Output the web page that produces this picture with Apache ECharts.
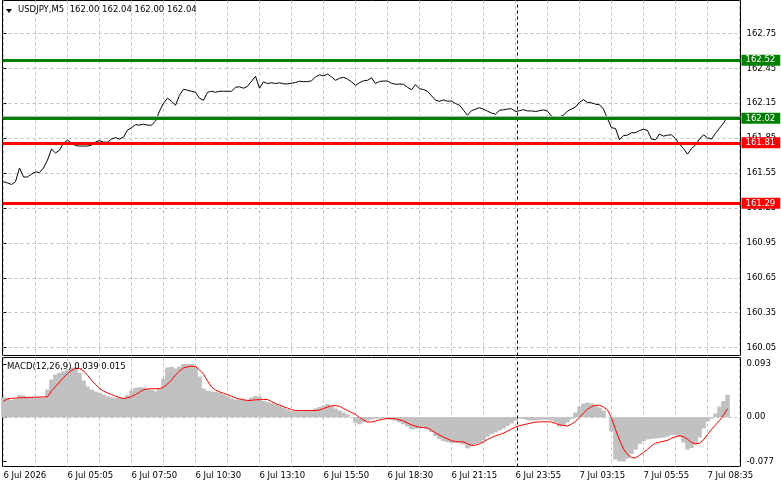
<!DOCTYPE html>
<html><head><meta charset="utf-8">
<script src="https://cdn.jsdelivr.net/npm/echarts@6/dist/echarts.min.js"></script>
<style>html,body{margin:0;padding:0;background:#fff}#c{width:781px;height:489px}</style>
</head><body><div id="c"></div>
<script>
const symbolTitle = 'USDJPY,M5  162.00 162.04 162.00 162.04';
const macdTitle = 'MACD(12,26,9) 0.039 0.015';

// close price, one reading every 2 bars (M5)
const price = [
161.476,161.465,161.452,161.476,161.593,161.516,161.516,161.542,161.559,161.555,
161.593,161.662,161.756,161.722,161.747,161.807,161.833,161.807,161.786,161.782,
161.782,161.782,161.790,161.816,161.829,161.816,161.816,161.842,161.855,161.842,
161.859,161.919,161.940,161.966,161.962,161.970,161.962,161.962,161.996,162.082,
162.150,162.193,162.167,162.133,162.219,162.270,162.262,162.253,162.244,162.193,
162.176,162.244,162.253,162.244,162.253,162.253,162.253,162.253,162.287,162.292,
162.279,162.296,162.339,162.382,162.279,162.333,162.319,162.326,162.319,162.326,
162.317,162.316,162.322,162.328,162.339,162.336,162.336,162.343,162.376,162.394,
162.386,162.401,162.377,162.347,162.364,162.373,162.358,162.334,162.304,162.326,
162.343,162.347,162.369,162.319,162.337,162.341,162.340,162.322,162.313,162.315,
162.313,162.287,162.266,162.310,162.274,162.268,162.253,162.214,162.176,162.167,
162.178,162.167,162.169,162.148,162.133,162.090,162.047,162.086,162.099,162.112,
162.099,162.082,162.066,162.056,162.090,162.094,162.100,162.103,162.079,162.086,
162.095,162.084,162.084,162.079,162.086,162.093,162.082,162.039,162.033,162.033,
162.047,162.083,162.100,162.118,162.159,162.181,162.156,162.154,162.142,162.137,
162.099,162.017,161.940,161.933,161.837,161.872,161.876,161.897,161.896,161.915,
161.927,161.915,161.842,161.836,161.885,161.867,161.876,161.878,161.846,161.799,
161.760,161.713,161.760,161.790,161.842,161.879,161.853,161.842,161.891,161.936,
161.979,162.040];

const macdHist = [
0.0349,0.0339,0.0300,0.0326,0.0387,0.0379,0.0361,0.0353,0.0349,0.0349,
0.0349,0.0483,0.0658,0.0745,0.0775,0.0803,0.0832,0.0867,0.0867,0.0771,
0.0640,0.0536,0.0483,0.0449,0.0428,0.0396,0.0366,0.0347,0.0339,0.0339,
0.0339,0.0387,0.0466,0.0513,0.0522,0.0518,0.0501,0.0478,0.0454,0.0501,
0.0675,0.0867,0.0876,0.0850,0.0885,0.0928,0.0930,0.0930,0.0894,0.0710,
0.0501,0.0461,0.0449,0.0440,0.0428,0.0396,0.0365,0.0326,0.0309,0.0309,
0.0309,0.0309,0.0344,0.0370,0.0361,0.0283,0.0265,0.0248,0.0230,0.0204,
0.0169,0.0134,0.0105,0.0105,0.0105,0.0105,0.0105,0.0113,0.0152,0.0178,
0.0204,0.0234,0.0199,0.0152,0.0117,0.0082,0.0047,0.0003,-0.0098,-0.0124,
-0.0089,-0.0058,-0.0040,-0.0028,-0.0023,-0.0023,-0.0031,-0.0045,-0.0063,-0.0092,
-0.0124,-0.0162,-0.0211,-0.0202,-0.0194,-0.0187,-0.0215,-0.0258,-0.0328,-0.0380,
-0.0415,-0.0433,-0.0447,-0.0447,-0.0455,-0.0476,-0.0543,-0.0511,-0.0468,-0.0450,
-0.0407,-0.0337,-0.0293,-0.0267,-0.0232,-0.0197,-0.0154,-0.0110,-0.0058,-0.0023,
-0.0031,-0.0049,-0.0058,-0.0054,-0.0049,-0.0045,-0.0040,-0.0058,-0.0092,-0.0162,
-0.0154,-0.0092,-0.0031,0.0082,0.0187,0.0239,0.0257,0.0243,0.0213,0.0169,
0.0117,-0.0005,-0.0250,-0.0738,-0.0770,-0.0770,-0.0721,-0.0642,-0.0564,-0.0468,
-0.0415,-0.0389,-0.0377,-0.0372,-0.0363,-0.0354,-0.0337,-0.0311,-0.0311,-0.0346,
-0.0442,-0.0564,-0.0538,-0.0476,-0.0354,-0.0197,-0.0075,-0.0023,0.0065,0.0187,
0.0283,0.0390];

const macdSignal = [
0.0279,0.0318,0.0330,0.0335,0.0339,0.0340,0.0344,0.0347,0.0349,0.0353,
0.0354,0.0358,0.0457,0.0536,0.0614,0.0693,0.0763,0.0818,0.0850,0.0850,
0.0806,0.0733,0.0644,0.0571,0.0504,0.0457,0.0422,0.0396,0.0366,0.0344,
0.0326,0.0339,0.0358,0.0396,0.0435,0.0480,0.0494,0.0496,0.0496,0.0501,
0.0522,0.0579,0.0649,0.0736,0.0806,0.0859,0.0880,0.0890,0.0885,0.0824,
0.0754,0.0632,0.0527,0.0475,0.0442,0.0417,0.0396,0.0366,0.0337,0.0318,
0.0304,0.0291,0.0295,0.0304,0.0305,0.0309,0.0309,0.0274,0.0239,0.0213,
0.0183,0.0159,0.0131,0.0117,0.0117,0.0117,0.0117,0.0117,0.0117,0.0127,
0.0152,0.0176,0.0201,0.0201,0.0190,0.0152,0.0117,0.0082,0.0047,-0.0005,
-0.0049,-0.0084,-0.0084,-0.0066,-0.0047,-0.0035,-0.0023,-0.0023,-0.0028,-0.0045,
-0.0066,-0.0101,-0.0134,-0.0157,-0.0176,-0.0182,-0.0187,-0.0229,-0.0272,-0.0311,
-0.0347,-0.0380,-0.0410,-0.0424,-0.0429,-0.0429,-0.0462,-0.0489,-0.0489,-0.0462,
-0.0429,-0.0389,-0.0354,-0.0325,-0.0302,-0.0276,-0.0243,-0.0206,-0.0171,-0.0148,
-0.0131,-0.0115,-0.0099,-0.0086,-0.0080,-0.0080,-0.0080,-0.0084,-0.0110,-0.0131,
-0.0145,-0.0154,-0.0119,-0.0075,0.0003,0.0073,0.0140,0.0187,0.0209,0.0209,
0.0178,0.0126,-0.0014,-0.0215,-0.0398,-0.0555,-0.0651,-0.0703,-0.0712,-0.0663,
-0.0613,-0.0560,-0.0497,-0.0455,-0.0435,-0.0419,-0.0403,-0.0366,-0.0342,-0.0323,
-0.0340,-0.0384,-0.0442,-0.0462,-0.0455,-0.0394,-0.0302,-0.0211,-0.0136,-0.0058,
0.0038,0.0150];

const resistanceLevels = [162.52, 162.02];
const supportLevels = [161.81, 161.29];
const bidPrice = 162.04;
const priceTicks = [160.05,160.35,160.65,160.95,161.25,161.55,161.85,162.15,162.45,162.75];
const macdTicks = [0.093, 0.00, -0.077];
const macdTickLabels = ['0.093', '0.00', '-0.077'];
const timeLabels = ['6 Jul 2026','6 Jul 05:05','6 Jul 07:50','6 Jul 10:30','6 Jul 13:10','6 Jul 15:50',
  '6 Jul 18:30','6 Jul 21:15','6 Jul 23:55','7 Jul 03:15','7 Jul 05:55','7 Jul 08:35'];
const barsPerSample = 2;
const barsPerLabel = 32;
const barsPerGrid = 16;
const totalBars = 369;
const daySeparatorBar = 257;

const FONT = 'DejaVu Sans';
const FS = 8.5;
const GRID_COLOR = '#c0c0c0';

const priceData = price.map((v, i) => [i * barsPerSample, v]);
const histData = macdHist.map((v, i) => [i * barsPerSample, v]);
const sigData = macdSignal.map((v, i) => [i * barsPerSample, v]);
const gridTicks = [];
for (let b = 0; b < totalBars; b += barsPerGrid) gridTicks.push(b);
const labelTicks = timeLabels.map((_, i) => i * barsPerLabel);

function levelItem(v, color) {
  return {
    yAxis: v,
    lineStyle: { color: color, width: 3, type: 'solid' },
    label: {
      show: true, position: 'end', distance: 1,
      formatter: v.toFixed(2), color: '#fff', backgroundColor: color,
      padding: [1, 5, 1, 4], fontFamily: FONT, fontSize: FS
    }
  };
}

const xBase = {
  type: 'value', min: -0.5, max: totalBars - 0.5,
  axisLine: { show: false },
  axisTick: { show: false, customValues: gridTicks },
  splitLine: { show: true, lineStyle: { color: GRID_COLOR, type: [3, 3], width: 1 } }
};

const chart = echarts.init(document.getElementById('c'), null, { renderer: 'canvas' });
chart.setOption({
  animation: false,
  backgroundColor: '#fff',
  title: [
    { text: symbolTitle, left: 18, top: 5, padding: 0,
      textStyle: { fontFamily: FONT, fontSize: FS, fontWeight: 'normal', color: '#000' } },
    { text: macdTitle, left: 7, top: 362, padding: 0,
      textStyle: { fontFamily: FONT, fontSize: FS, fontWeight: 'normal', color: '#000' } }
  ],
  graphic: [
    { type: 'polygon', shape: { points: [[6, 9], [12, 9], [9, 13]] }, style: { fill: '#000' } }
  ],
  grid: [
    { left: 2.5, right: 40.5, top: 0.5, height: 355, show: true, borderColor: '#000', borderWidth: 1, backgroundColor: 'transparent' },
    { left: 2.5, right: 40.5, top: 357.5, height: 109, show: true, borderColor: '#000', borderWidth: 1, backgroundColor: 'transparent' }
  ],
  xAxis: [
    Object.assign({}, xBase, { gridIndex: 0, axisLabel: { show: false } }),
    Object.assign({}, xBase, {
      gridIndex: 1,
      axisLabel: {
        show: true, customValues: labelTicks, align: 'left', margin: 5,
        color: '#000', fontFamily: FONT, fontSize: FS,
        formatter: v => timeLabels[Math.round(v / barsPerLabel)]
      }
    })
  ],
  yAxis: [
    {
      type: 'value', gridIndex: 0, position: 'right',
      min: 159.982, max: 163.033,
      axisLine: { show: false },
      axisTick: { show: true, customValues: priceTicks, length: 3, lineStyle: { color: '#000' } },
      axisLabel: { customValues: priceTicks, margin: 6, color: '#000', fontFamily: FONT, fontSize: FS,
        formatter: v => v.toFixed(2) },
      splitLine: { show: true, lineStyle: { color: GRID_COLOR, type: [3, 3], width: 1 } }
    },
    {
      type: 'value', gridIndex: 1, position: 'right',
      min: -0.086, max: 0.1042,
      axisLine: { show: false },
      axisTick: { show: true, customValues: macdTicks, length: 3, lineStyle: { color: '#000' } },
      axisLabel: { customValues: macdTicks, margin: 6, color: '#000', fontFamily: FONT, fontSize: FS,
        formatter: v => macdTickLabels[macdTicks.findIndex(t => Math.abs(t - v) < 1e-6)] },
      splitLine: { show: false }
    }
  ],
  series: [
    {
      type: 'line', xAxisIndex: 0, yAxisIndex: 0, data: priceData,
      symbol: 'none', lineStyle: { color: '#000', width: 1 }, z: 3,
      markLine: {
        silent: true, symbol: ['none', 'none'], animation: false, z: 5,
        data: [
          { xAxis: daySeparatorBar, lineStyle: { color: '#000', type: [3, 3], width: 1 }, label: { show: false } },
          { yAxis: bidPrice, lineStyle: { color: '#b8b8b8', type: 'solid', width: 1 }, label: { show: false } },
          levelItem(resistanceLevels[0], '#008000'),
          levelItem(resistanceLevels[1], '#008000'),
          levelItem(supportLevels[0], '#ff0000'),
          levelItem(supportLevels[1], '#ff0000')
        ]
      }
    },
    {
      type: 'bar', xAxisIndex: 1, yAxisIndex: 1, data: histData,
      barWidth: 4.6, itemStyle: { color: '#c0c0c0' }, z: 2,
      markLine: {
        silent: true, symbol: ['none', 'none'], animation: false,
        data: [
          { yAxis: 0, lineStyle: { color: GRID_COLOR, type: [3, 3], width: 1 }, label: { show: false } },
          { xAxis: daySeparatorBar, lineStyle: { color: '#000', type: [3, 3], width: 1 }, label: { show: false } }
        ]
      }
    },
    {
      type: 'line', xAxisIndex: 1, yAxisIndex: 1, data: sigData,
      symbol: 'none', lineStyle: { color: '#ff0000', width: 1 }, z: 4
    }
  ]
});
</script>
</body></html>
